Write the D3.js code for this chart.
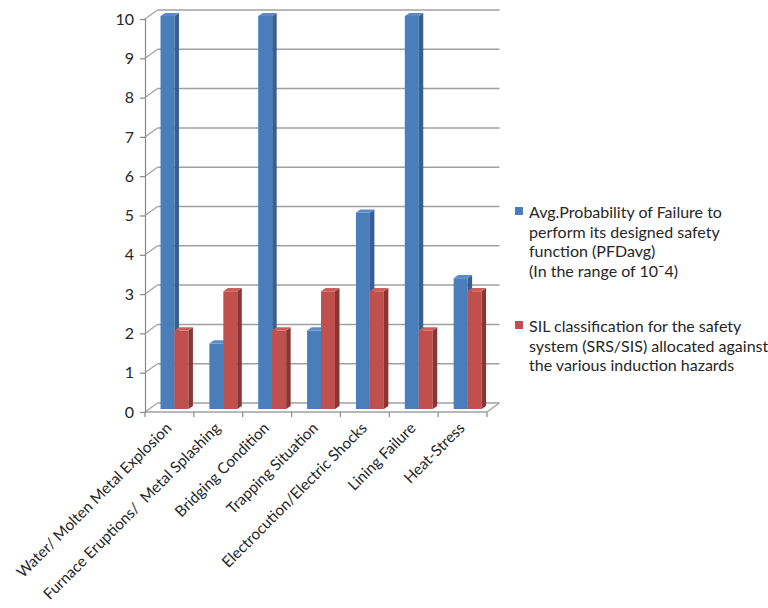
<!DOCTYPE html>
<html>
<head>
<meta charset="utf-8">
<script src="https://cdn.jsdelivr.net/npm/d3@7"></script>
<style>
  html, body { margin: 0; padding: 0; background: #fff; }
  svg { display: block; }
  text { font-family: Lato, "Open Sans", sans-serif; fill: #262626; }
</style>
</head>
<body>
<svg id="chart" width="768" height="608"></svg>
<script>
// Induction furnace hazards: average probability of failure vs SIL class
const categories = [
  "Water/ Molten Metal Explosion",
  "Furnace Eruptions/  Metal Splashing",
  "Bridging Condition",
  "Trapping Situation",
  "Electrocution/Electric Shocks",
  "Lining Failure",
  "Heat-Stress"
];
const pfdAvg   = [10, 1.67, 10, 2, 5, 10, 3.33];
const silClass = [2, 3, 2, 3, 3, 2, 3];
const yTicks   = [0, 1, 2, 3, 4, 5, 6, 7, 8, 9, 10];

const seriesNames = ["pfd", "sil"];
const legendLines = {
  pfd: ["Avg.Probability of Failure to", "perform its designed safety", "function (PFDavg)", "(In the range of 10ˉ4)"],
  sil: ["SIL classification for the safety", "system (SRS/SIS) allocated against", "the various induction hazards"]
};
const colors = {
  pfd: { front: "#4a7ebb", side: "#375f93", top: "#5a8bc6" },
  sil: { front: "#c0504d", side: "#8a3532", top: "#cb5f5c" }
};

const svg = d3.select("#chart");

// front-plane scales
const x = d3.scaleBand().domain(categories).range([145, 487]).paddingInner(0).paddingOuter(0);
const xs = d3.scaleBand().domain(seriesNames).range([0, x.bandwidth()])
  .paddingInner(0).paddingOuter(0.75).align(0.55);
const y = d3.scaleLinear().domain([0, 10]).range([412, 19]);

// oblique depth projection: z = 0 front plane, z = 1 back wall
const DX = 12.5, DY = -9;
const P = (px, py, z) => [px + z * DX, py + z * DY];
const poly = pts => pts.map(p => p.join(",")).join(" ");

const gridColor = "#a0a0a0";
const axisColor = "#888888";

// back wall gridlines and their connectors to the value axis
const grid = svg.append("g");
yTicks.forEach(t => {
  const [bx0, by] = P(x.range()[0], y(t), 1);
  const [bx1] = P(x.range()[1], y(t), 1);
  grid.append("line")
    .attr("x1", bx0).attr("y1", by).attr("x2", bx1).attr("y2", by)
    .attr("stroke", gridColor).attr("stroke-width", 1.5);
  grid.append("line")
    .attr("x1", x.range()[0]).attr("y1", y(t)).attr("x2", bx0).attr("y2", by)
    .attr("stroke", gridColor).attr("stroke-width", 1.2);
});

// floor outline
const floor = svg.append("g");
const fr = P(x.range()[1], y(0), 1);
floor.append("line")
  .attr("x1", x.range()[0]).attr("y1", y(0)).attr("x2", x.range()[1]).attr("y2", y(0))
  .attr("stroke", gridColor).attr("stroke-width", 1.5);
floor.append("line")
  .attr("x1", x.range()[1]).attr("y1", y(0)).attr("x2", fr[0]).attr("y2", fr[1])
  .attr("stroke", gridColor).attr("stroke-width", 1.2);

// value axis (front)
const yAxis = d3.axisLeft(y).tickValues(yTicks).tickSize(5).tickPadding(6).tickFormat(d3.format("d"));
const gy = svg.append("g").attr("transform", `translate(${x.range()[0]},0)`).call(yAxis);
gy.select(".domain").attr("stroke", axisColor).attr("stroke-width", 1.2);
gy.selectAll(".tick line").attr("stroke", axisColor).attr("stroke-width", 1.2);
gy.selectAll(".tick text").attr("font-size", 16).attr("fill", "#262626")
  .style("font-family", "Lato, sans-serif");

// category axis ticks at band boundaries
const boundaries = categories.map(c => x(c)).concat([x.range()[1]]);
svg.append("g").selectAll("line").data(boundaries).join("line")
  .attr("x1", d => d).attr("x2", d => d)
  .attr("y1", y(0)).attr("y2", y(0) + 5)
  .attr("stroke", axisColor).attr("stroke-width", 1.2);

// 3D columns
const z0 = 0.32, z1 = 0.68;
const bars = svg.append("g");
categories.forEach((c, i) => {
  const vals = { pfd: pfdAvg[i], sil: silClass[i] };
  seriesNames.forEach(s => {
    const xl = x(c) + xs(s), xr = xl + xs.bandwidth();
    const yt = y(vals[s]), yb = y(0);
    const col = colors[s];
    const g = bars.append("g");
    // front face
    g.append("polygon")
      .attr("points", poly([P(xl, yt, z0), P(xr, yt, z0), P(xr, yb, z0), P(xl, yb, z0)]))
      .attr("fill", col.front);
    // right side face
    g.append("polygon")
      .attr("points", poly([P(xr, yt, z0), P(xr, yt, z1), P(xr, yb, z1), P(xr, yb, z0)]))
      .attr("fill", col.side);
    // top face
    g.append("polygon")
      .attr("points", poly([P(xl, yt, z0), P(xr, yt, z0), P(xr, yt, z1), P(xl, yt, z1)]))
      .attr("fill", col.top);
  });
});

// rotated category labels
svg.append("g").selectAll("text").data(categories).join("text")
  .attr("transform", d => `translate(${x(d) + x.bandwidth() / 2 + 3},${y(0) + 17}) rotate(-45)`)
  .attr("text-anchor", "end")
  .attr("font-size", 15.3)
  .attr("xml:space", "preserve")
  .style("white-space", "pre")
  .text(d => d);

// legend
const legend = svg.append("g");
const legendTop = { pfd: 218, sil: 332 };
seriesNames.forEach(s => {
  legend.append("rect")
    .attr("x", 515).attr("y", legendTop[s] - 11).attr("width", 8).attr("height", 8)
    .attr("fill", colors[s].front);
  legend.append("text")
    .attr("x", 529).attr("y", legendTop[s])
    .attr("font-size", 16)
    .selectAll("tspan").data(legendLines[s]).join("tspan")
    .attr("x", 529).attr("dy", (d, k) => k === 0 ? 0 : 19.5)
    .text(d => d);
});
</script>
</body>
</html>
